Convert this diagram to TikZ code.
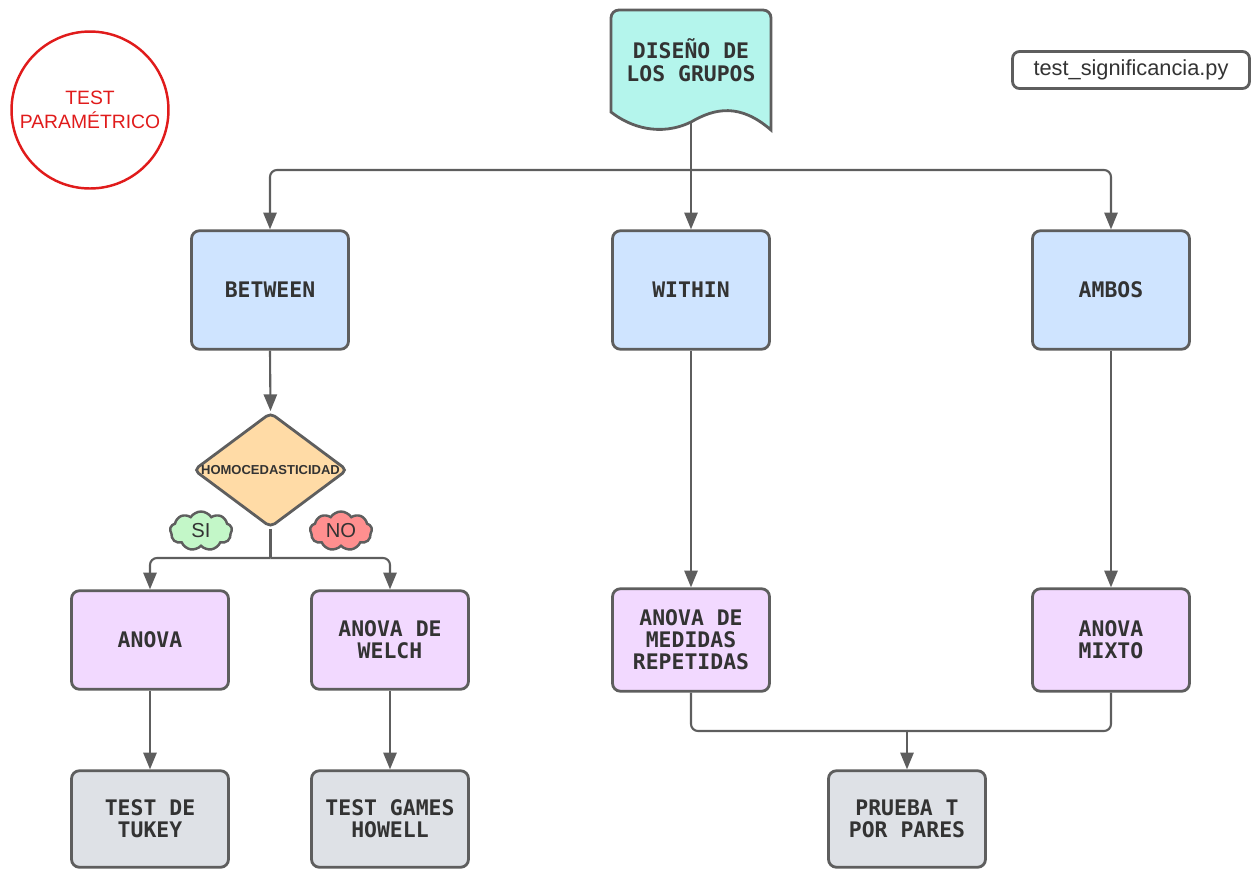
\documentclass[tikz,border=0pt]{standalone}
\usepackage{fontspec}
\setmainfont{Liberation Sans}
\newfontfamily\boxfont{DejaVu Sans Mono}
\usetikzlibrary{arrows.meta,shapes.geometric,shapes.symbols}

\definecolor{edge}{HTML}{5E5E5E}
\definecolor{txt}{HTML}{333333}
\definecolor{docfill}{HTML}{B4F5EC}
\definecolor{bluefill}{HTML}{CFE4FF}
\definecolor{purplefill}{HTML}{F2D9FF}
\definecolor{grayfill}{HTML}{DEE1E6}
\definecolor{decfill}{HTML}{FFDBA6}
\definecolor{sifill}{HTML}{C3F7C8}
\definecolor{nofill}{HTML}{FF8F8F}
\definecolor{tagred}{HTML}{E01B1B}

\begin{document}
\begin{tikzpicture}[x=0.02cm,y=-0.02cm,
  stepbox/.style={draw=edge, line width=1.6pt, rounded corners=4.5pt,
    minimum width=3.14cm, align=center, text=txt,
    font=\boxfont\bfseries\fontsize{12.2pt}{12.6pt}\selectfont},
  topbox/.style={stepbox, fill=bluefill, minimum height=2.37cm},
  midbox/.style={stepbox, fill=purplefill, minimum height=1.97cm},
  tallmid/.style={stepbox, fill=purplefill, minimum height=2.05cm},
  lowbox/.style={stepbox, fill=grayfill, minimum height=1.93cm},
  conn/.style={draw=edge, line width=1.2pt, rounded corners=4pt,
    -{Triangle[length=9.5pt,width=7.5pt]}},
  link/.style={draw=edge, line width=1.2pt, rounded corners=4pt},
  answer/.style={cloud, cloud puffs=9, cloud puff arc=115, aspect=1.6,
    draw=edge, line width=1.4pt, minimum width=1.24cm, minimum height=0.78cm,
    inner sep=0pt, text=txt, font=\fontsize{11.5pt}{12pt}\selectfont}
]
\useasboundingbox (0,0) rectangle (1255,870);

% document shape with wavy bottom edge
\path[fill=docfill, draw=edge, line width=1.6pt, rounded corners=4.5pt]
  (611,112) -- (611,10) -- (771,10) [sharp corners] -- (771,130)
  .. controls (740,103) and (715,108) .. (691,122)
  .. controls (660,137) and (630,127) .. (611,112) -- cycle;
\node[text=txt, align=center, font=\boxfont\bfseries\fontsize{12.2pt}{13pt}\selectfont]
  (design) at (691,60) {DISEÑO DE\\LOS GRUPOS};
\coordinate (docstem) at (691,122);
\coordinate (split) at (691,170);

% legend items
\node[circle, draw=tagred, line width=1.4pt, minimum size=3.14cm, inner sep=0pt,
  text=tagred, align=center, font=\fontsize{11pt}{13.6pt}\selectfont]
  (tag) at (90,110) {TEST\\PARAMÉTRICO};
\node[draw=edge, line width=1.6pt, rounded corners=4pt, fill=white,
  minimum width=4.74cm, minimum height=0.74cm, text=txt,
  font=\fontsize{12.4pt}{14pt}\selectfont]
  (file) at (1131,70) {test\_significancia.py};

% design branches
\node[topbox] (between) at (270,290) {BETWEEN};
\node[topbox] (within) at (691,290) {WITHIN};
\node[topbox] (ambos) at (1111,290) {AMBOS};

% variance check
\node[diamond, draw=edge, line width=1.6pt, fill=decfill, rounded corners=3pt,
  minimum width=3.08cm, minimum height=2.3cm, inner sep=0pt,
  label={[text=txt, font=\bfseries\fontsize{7.4pt}{8pt}\selectfont]center:HOMOCEDASTICIDAD}]
  (homo) at (270.5,470) {};
\node[answer, fill=sifill] (si) at (201,531) {SI};
\node[answer, fill=nofill] (no) at (341,531) {NO};
\coordinate (fork) at (270.5,558);

% tests
\node[midbox] (anova) at (150,640) {ANOVA};
\node[midbox] (welch) at (390,640) {ANOVA DE\\WELCH};
\node[tallmid] (medidas) at (691,640) {ANOVA DE\\MEDIDAS\\REPETIDAS};
\node[tallmid] (mixto) at (1111,640) {ANOVA\\MIXTO};

% post-hoc tests
\node[lowbox] (tukey) at (150,819) {TEST DE\\TUKEY};
\node[lowbox] (howell) at (390,819) {TEST GAMES\\HOWELL};
\node[lowbox] (prueba) at (907,819) {PRUEBA T\\POR PARES};
\coordinate (merge) at (907,731);

% connectors
\draw[link] (docstem) -- (split);
\draw[conn] (split) -| (between.north);
\draw[conn] (split) -- (within.north);
\draw[conn] (split) -| (ambos.north);
\draw[conn] (between.south) -- (homo.north);
\draw[link] (homo.south) -- (fork);
\draw[conn] (fork) -| (anova.north);
\draw[conn] (fork) -| (welch.north);
\draw[conn] (anova.south) -- (tukey.north);
\draw[conn] (welch.south) -- (howell.north);
\draw[conn] (within.south) -- (medidas.north);
\draw[conn] (ambos.south) -- (mixto.north);
\draw[link] (medidas.south) |- (merge);
\draw[link] (mixto.south) |- (merge);
\draw[conn] (merge) -- (prueba.north);
\end{tikzpicture}
\end{document}
